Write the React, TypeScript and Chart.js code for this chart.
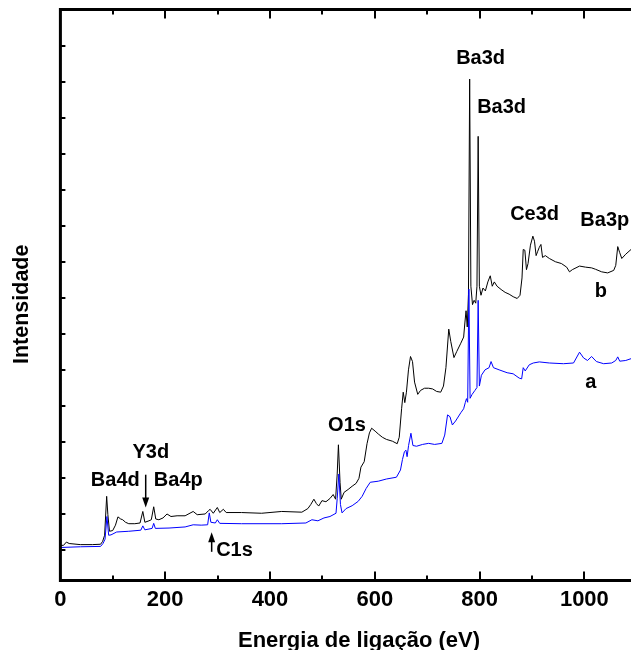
import React, { useEffect, useRef } from "react";
import { Chart, registerables } from "chart.js";

Chart.register(...registerables);

// Spectrum b (black)
const energyB = [
  0, 6, 11.4, 16.8, 38, 61, 76.7, 80.6, 84.4, 88.3,
  90.6, 93.7, 99.8, 105.1, 109.8, 115.1, 118.9, 124.3, 130.5, 142,
  152, 157.3, 161.2, 169, 173.5, 178.1, 182, 188, 195.8, 203.5,
  211, 222.7, 238, 253.4, 261.1, 276.4, 282.5, 285.7, 291.8, 299.5,
  304.1, 311, 316.4, 345.6, 384, 422.4, 460.8, 472.3, 477.7, 483.8,
  488.5, 493, 499.2, 506.8, 514.5, 520.6, 525.2, 528.3, 530.6, 533.7,
  536, 541.4, 549.1, 556.8, 564.4, 569.8, 573.6, 579.8, 585.2, 589.8,
  594, 600.6, 606.7, 614.4, 622.1, 633.6, 642.8, 646.7, 651.2, 654.3,
  657.3, 660.4, 664.3, 668.2, 672, 675.9, 682, 687.4, 695, 702.8,
  710.4, 718.1, 725.8, 731.1, 735.8, 741.2, 745, 751.1, 756.5, 764.2,
  769.6, 771.9, 774.2, 776.5, 778.8, 781.1, 783.4, 786.5, 789.6, 792.7,
  795, 797.3, 799.6, 802.7, 806.5, 811.1, 815.8, 820.4, 824.2, 828.1,
  833.4, 841.1, 848.8, 856.4, 864.1, 871.8, 877.2, 881, 883.3, 886.4,
  889.5, 892.5, 897.1, 901.7, 904.8, 907.9, 911, 914, 917.1, 920.2,
  925.5, 933.2, 944.7, 956.2, 966.2, 971.6, 977, 990.8, 1002.3, 1013.8,
  1021.4, 1033, 1044.5, 1056, 1059.9, 1063.7, 1067.5, 1071.4, 1079, 1089,
];
const intensityB = [
  1.13, 1.13, 1.22, 1.18, 1.15, 1.15, 1.16, 1.24, 1.41, 2.49,
  1.98, 1.52, 1.54, 1.69, 1.92, 1.86, 1.84, 1.77, 1.73, 1.73,
  1.75, 2.07, 1.77, 1.81, 1.84, 2.2, 1.86, 1.84, 1.89, 2.0,
  1.93, 1.95, 1.95, 2.07, 1.98, 2.0, 2.09, 2.13, 2.02, 2.18,
  2.04, 2.13, 2.04, 2.04, 2.02, 2.07, 2.05, 2.15, 2.26, 2.41,
  2.29, 2.22, 2.37, 2.34, 2.43, 2.54, 2.41, 3.11, 3.92, 2.88,
  2.41, 2.6, 2.68, 2.77, 2.85, 2.99, 3.3, 3.45, 3.95, 4.25,
  4.38, 4.3, 4.22, 4.13, 4.07, 4.02, 3.95, 4.13, 4.92, 5.38,
  5.09, 5.38, 6.0, 6.37, 6.23, 5.66, 5.32, 5.43, 5.49, 5.49,
  5.47, 5.4, 5.38, 5.55, 6.06, 7.13, 6.79, 6.34, 6.51, 6.74,
  6.91, 7.3, 7.64, 7.19, 8.1, 14.07, 8.32, 7.81, 7.93, 7.85,
  8.32, 12.48, 8.32, 8.07, 8.27, 8.19, 8.44, 8.61, 8.32, 8.44,
  8.32, 8.23, 8.15, 8.1, 8.03, 7.98, 8.07, 8.55, 9.34, 9.32,
  8.78, 8.95, 9.46, 9.71, 9.57, 9.17, 9.29, 9.4, 9.48, 9.12,
  9.17, 9.09, 9.0, 8.95, 8.85, 8.72, 8.78, 8.88, 8.85, 8.83,
  8.79, 8.72, 8.69, 8.76, 8.9, 9.42, 9.25, 9.09, 9.21, 9.34,
];

// Spectrum a (blue)
const energyA = [
  0, 38.3, 76.7, 81.3, 85.2, 88.8, 92.1, 96.6, 107.4, 130.5,
  153.5, 157.3, 161.2, 175, 178.1, 181.2, 207.3, 238, 253.4, 268.7,
  281, 284.1, 287.2, 295.7, 299.5, 304.1, 345.6, 422.4, 468.5, 480,
  491.5, 503, 514.5, 526, 528.3, 531.4, 534.5, 537.5, 545.2, 556.8,
  568.3, 575.9, 583.6, 591.3, 606.7, 622.1, 641.3, 649, 652.8, 656.6,
  659.5, 661.7, 664.5, 669, 672.8, 679.7, 691.2, 702.8, 714.3, 728.1,
  733.5, 738.9, 743.5, 748.1, 754.2, 764.2, 769.6, 772.7, 775, 777.3,
  779.6, 781.9, 785.8, 791.2, 795, 797.3, 799.6, 803.5, 810.4, 818.1,
  821.9, 826.5, 837.3, 852.6, 864.1, 875.7, 880.3, 883.3, 887.1, 894.8,
  902.5, 914, 933.2, 960.1, 979.3, 990.8, 998.5, 1006, 1013.8, 1023,
  1036.8, 1052.2, 1059.9, 1063.7, 1067.5, 1079, 1089,
];
const intensityA = [
  1.07, 1.09, 1.1, 1.18, 1.3, 1.93, 1.41, 1.42, 1.5, 1.52,
  1.55, 1.67, 1.56, 1.6, 1.74, 1.6, 1.61, 1.64, 1.7, 1.69,
  1.7, 2.03, 1.77, 1.75, 1.84, 1.74, 1.73, 1.73, 1.75, 1.84,
  1.81, 1.89, 1.93, 2.02, 2.43, 3.11, 2.26, 2.03, 2.15, 2.23,
  2.35, 2.49, 2.71, 2.88, 2.91, 2.97, 3.02, 3.22, 3.51, 3.73,
  3.77, 3.59, 3.9, 4.24, 3.9, 3.88, 3.93, 3.96, 3.93, 3.96,
  4.19, 4.75, 4.7, 4.47, 4.58, 4.81, 4.92, 5.09, 5.2, 5.1,
  8.24, 5.21, 5.32, 5.43, 5.51, 7.93, 5.55, 5.85, 6.0, 6.06,
  6.23, 6.06, 6.0, 5.92, 5.89, 5.77, 5.75, 6.06, 5.97, 6.14,
  6.19, 6.22, 6.19, 6.17, 6.19, 6.49, 6.33, 6.26, 6.37, 6.23,
  6.17, 6.19, 6.26, 6.36, 6.24, 6.26, 6.31,
];

const xMajorTicks = [0, 200, 400, 600, 800, 1000];
const xMinorTicks = [100, 300, 500, 700, 900];
const yMinorTicks = [1, 2, 3, 4, 5, 6, 7, 8, 9, 10, 11, 12, 13, 14, 15];

const peakLabels = ["Ba3d", "Ba3d", "Ce3d", "Ba3p", "b", "a", "O1s", "Y3d", "Ba4d", "Ba4p", "C1s"];
const peakLabelEnergy = [802, 842, 905, 1039, 1031.7, 1012.5, 547, 172.6, 104.8, 225, 332.3];
const peakLabelIntensity = [14.5, 13.13, 10.17, 10.0, 8.02, 5.5, 4.3, 3.54, 2.79, 2.79, 0.84];

const arrowEnergy = [162.8, 288.7];
const arrowFrom = [3.09, 0.95];
const arrowTo = [2.18, 1.49];

const xTitle = "Energia de ligação (eV)";
const yTitle = "Intensidade";

const FONT = "'Liberation Sans', Arial, Helvetica, sans-serif";

const decorPlugin = {
  id: "xpsDecor",
  afterDraw(chart: any) {
    const { ctx, chartArea, scales } = chart;
    const { left, top, right, bottom } = chartArea;
    const xs = scales.x;
    const ys = scales.y;
    ctx.save();
    ctx.strokeStyle = "#000";
    ctx.lineWidth = 3;
    ctx.lineCap = "square";
    ctx.beginPath();
    ctx.moveTo(right + 4, top);
    ctx.lineTo(left, top);
    ctx.lineTo(left, bottom);
    ctx.lineTo(right + 4, bottom);
    ctx.stroke();
    ctx.lineCap = "butt";
    ctx.lineWidth = 2;
    ctx.beginPath();
    xMajorTicks.forEach((v) => {
      const px = Math.round(xs.getPixelForValue(v));
      ctx.moveTo(px, bottom);
      ctx.lineTo(px, bottom - 9);
      ctx.moveTo(px, top);
      ctx.lineTo(px, top + 9);
    });
    xMinorTicks.forEach((v) => {
      const px = Math.round(xs.getPixelForValue(v));
      ctx.moveTo(px, bottom);
      ctx.lineTo(px, bottom - 5);
      ctx.moveTo(px, top);
      ctx.lineTo(px, top + 5);
    });
    yMinorTicks.forEach((v) => {
      const py = Math.round(ys.getPixelForValue(v));
      ctx.moveTo(left, py);
      ctx.lineTo(left + 5, py);
    });
    ctx.stroke();
    ctx.fillStyle = "#000";
    ctx.font = `bold 20px ${FONT}`;
    ctx.textAlign = "center";
    ctx.textBaseline = "alphabetic";
    peakLabels.forEach((t, i) => {
      ctx.fillText(t, xs.getPixelForValue(peakLabelEnergy[i]), ys.getPixelForValue(peakLabelIntensity[i]));
    });
    ctx.lineWidth = 1.5;
    arrowEnergy.forEach((e, i) => {
      const ax = xs.getPixelForValue(e);
      const y1 = ys.getPixelForValue(arrowFrom[i]);
      const y2 = ys.getPixelForValue(arrowTo[i]);
      const dir = Math.sign(y2 - y1);
      ctx.beginPath();
      ctx.moveTo(ax, y1);
      ctx.lineTo(ax, y2 - dir * 7);
      ctx.stroke();
      ctx.beginPath();
      ctx.moveTo(ax, y2);
      ctx.lineTo(ax - 3.5, y2 - dir * 10);
      ctx.lineTo(ax + 3.5, y2 - dir * 10);
      ctx.closePath();
      ctx.fill();
    });
    ctx.font = `bold 22px ${FONT}`;
    ctx.fillText(xTitle, 359, 647);
    ctx.translate(27.8, 304.3);
    ctx.rotate(-Math.PI / 2);
    ctx.font = `bold 21.5px ${FONT}`;
    ctx.fillText(yTitle, 0, 0);
    ctx.restore();
  },
};

export default function App() {
  const canvasRef = useRef<HTMLCanvasElement | null>(null);

  useEffect(() => {
    if (!canvasRef.current) return;
    const chart = new Chart(canvasRef.current, {
      type: "line",
      data: {
        datasets: [
          {
            label: "a",
            data: energyA.map((e, i) => ({ x: e, y: intensityA[i] })),
            borderColor: "#0000ff",
            borderWidth: 1,
            pointRadius: 0,
            tension: 0,
            fill: false,
          },
          {
            label: "b",
            data: energyB.map((e, i) => ({ x: e, y: intensityB[i] })),
            borderColor: "#000000",
            borderWidth: 1,
            pointRadius: 0,
            tension: 0,
            fill: false,
          },
        ],
      },
      options: {
        animation: false,
        responsive: true,
        maintainAspectRatio: false,
        layout: { padding: { left: 60.4, top: 9.5, right: 0, bottom: 30.5 } },
        plugins: { legend: { display: false }, tooltip: { enabled: false } },
        scales: {
          x: {
            type: "linear",
            min: 0,
            max: 1089,
            afterBuildTicks: (s: any) => {
              s.ticks = xMajorTicks.map((v) => ({ value: v }));
            },
            ticks: {
              color: "#000",
              font: { size: 22, weight: "bold", family: FONT, lineHeight: 1 },
              padding: 8.5,
              maxRotation: 0,
              autoSkip: false,
              callback: (v: any) => String(v),
            },
            grid: { display: false, drawTicks: false },
            border: { display: false },
          },
          y: {
            type: "linear",
            min: 0.154,
            max: 16,
            display: false,
          },
        },
      },
      plugins: [decorPlugin],
    });
    return () => chart.destroy();
  }, []);

  return (
    <div style={{ position: "absolute", left: 0, top: 0, width: 631, height: 650, background: "#fff" }}>
      <canvas ref={canvasRef} />
    </div>
  );
}
